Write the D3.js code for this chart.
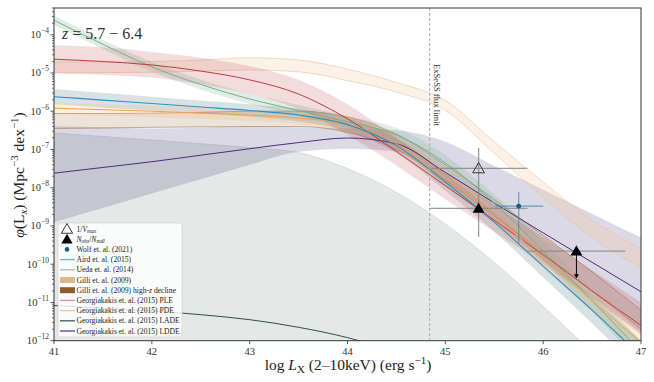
<!DOCTYPE html>
<html><head><meta charset="utf-8">
<script src="https://cdn.jsdelivr.net/npm/d3@7"></script>
<style>
body{margin:0;background:#fff}
svg{display:block}
text{font-family:"Liberation Serif","DejaVu Serif",serif}
</style>
</head><body>
<svg id="c" width="654" height="382"></svg>
<script>
// ---------- data (log10 of phi, Mpc^-3 dex^-1) ----------
const logLx = [41,41.5,42,42.5,43,43.5,44,44.5,45,45.5,46,46.5,47];

const uedaLine = [-3.62,-4.25,-4.84,-5.30,-5.68,-5.98,-6.28,-6.62,-7.35,-8.40,-9.65,-10.95,-12.30];
const uedaHi   = [-3.50,-4.13,-4.71,-5.17,-5.55,-5.84,-6.13,-6.44,-7.15,-8.18,-9.40,-10.67,-12.00];
const uedaLo   = [-3.74,-4.37,-4.97,-5.43,-5.81,-6.12,-6.43,-6.80,-7.55,-8.62,-9.90,-11.23,-12.60];

const airdLine = [-5.62,-5.71,-5.80,-5.89,-5.98,-6.10,-6.35,-6.90,-7.85,-8.90,-10.05,-11.20,-12.40];
const airdHi   = [-5.42,-5.52,-5.62,-5.72,-5.82,-5.94,-6.18,-6.70,-7.62,-8.65,-9.75,-10.85,-12.00];
const airdLo   = [-5.82,-5.90,-5.98,-6.06,-6.14,-6.26,-6.52,-7.10,-8.08,-9.15,-10.35,-11.55,-12.80];

const pdeLine  = [-5.92,-5.96,-6.00,-6.05,-6.10,-6.18,-6.35,-6.85,-7.75,-8.75,-9.85,-10.95,-12.05];
const pdeHi    = [-5.78,-5.82,-5.86,-5.90,-5.95,-6.03,-6.20,-6.68,-7.55,-8.52,-9.58,-10.65,-11.70];
const pdeLo    = [-6.08,-6.11,-6.15,-6.20,-6.25,-6.33,-6.52,-7.02,-7.95,-8.98,-10.12,-11.25,-12.40];

const pleLine  = [-4.64,-4.70,-4.79,-4.95,-5.18,-5.55,-6.20,-7.05,-7.95,-8.85,-9.75,-10.70,-11.60];
const pleHi    = [-4.27,-4.33,-4.45,-4.60,-4.82,-5.18,-5.82,-6.70,-7.60,-8.45,-9.30,-10.15,-11.00];
const pleLo    = [-5.00,-5.05,-5.12,-5.30,-5.55,-5.95,-6.62,-7.42,-8.30,-9.15,-10.00,-10.90,-11.85];

const gilliHi  = [-4.71,-4.71,-4.70,-4.66,-4.60,-4.66,-4.90,-5.25,-5.72,-6.80,-7.85,-8.85,-9.60];
const gilliLo  = [-5.00,-4.99,-4.98,-4.95,-4.92,-4.97,-5.20,-5.50,-5.98,-7.10,-8.25,-9.30,-10.10];

const gilliDecHi = [-6.06,-6.06,-6.05,-6.03,-6.00,-6.00,-6.15,-6.60,-7.40,-8.30,-9.25,-10.20,-11.20];
const gilliDecLo = [-6.45,-6.44,-6.42,-6.41,-6.40,-6.40,-6.55,-7.00,-7.80,-8.75,-9.70,-10.70,-11.70];

const lddeLine = [-7.62,-7.47,-7.32,-7.15,-6.98,-6.82,-6.70,-6.85,-7.60,-8.40,-9.18,-9.95,-10.72];
const lddeHi   = [-6.40,-6.42,-6.45,-6.43,-6.40,-6.42,-6.45,-6.50,-6.80,-7.43,-8.05,-8.68,-9.30];
const lddeLo   = [-8.90,-8.53,-8.15,-7.78,-7.40,-7.06,-6.98,-7.05,-7.95,-8.90,-9.90,-10.85,-11.80];

const ladeLine = [-11.08,-11.15,-11.22,-11.32,-11.45,-11.65,-11.92,-12.30,-12.80,-13.40,-14.00,-14.60,-15.20];
const ladeHi   = [-6.57,-6.66,-6.75,-6.85,-6.95,-7.08,-7.50,-8.12,-8.95,-9.95,-11.10,-12.30,-13.50];
const ladeLo   = [-14,-14,-14,-14,-14,-14,-14,-14,-14,-14,-14,-14,-14];

// data points: [logLx, phi, xlo, xhi, ylo, yhi]
const vmaxPts  = [[45.34, 3.2e-8, 44.85, 45.84, 1.0e-8, 1.1e-7]];
const nobsPts  = [[45.34, 2.9e-9, 44.84, 45.84, 5.2e-10, 1.0e-8]];
const nobsLim  = [[46.34, 2.2e-10, 45.83, 46.84, 4.3e-11]];
const wolfPts  = [[45.75, 3.3e-9, 45.51, 46.00, 3.5e-10, 7.7e-9]];

const fluxLimit = 44.84;
const yTickExp = [-12,-11,-10,-9,-8,-7,-6,-5,-4];
const xTicks = [41,42,43,44,45,46,47];

// ---------- scales ----------
const L=54, R=641, T=8, B=340.7;
const x = d3.scaleLinear().domain([41,47]).range([L,R]);
const y = d3.scaleLog().domain([1e-12,5e-4]).range([B,T]);
const yl = v => y(Math.pow(10,v));

const svg = d3.select("#c");
svg.append("defs").append("clipPath").attr("id","clip")
  .append("rect").attr("x",L).attr("y",T).attr("width",R-L).attr("height",B-T);
const g = svg.append("g").attr("clip-path","url(#clip)");

const curve = d3.curveMonotoneX;
function band(hi, lo, fill, op, edge, ew){
  const a = d3.area().curve(curve).x((d,i)=>x(logLx[i])).y0((d,i)=>yl(lo[i])).y1((d,i)=>yl(hi[i]));
  g.append("path").attr("d", a(hi)).attr("fill", fill).attr("fill-opacity", op).attr("stroke","none");
  if(edge){
    const ln = d3.line().curve(curve).x((d,i)=>x(logLx[i])).y(d=>yl(d));
    [hi,lo].forEach(arr=>g.append("path").attr("d",ln(arr)).attr("fill","none")
      .attr("stroke",edge).attr("stroke-width",ew||0.8).attr("stroke-opacity",0.75));
  }
}
function line(vals, color, w){
  const ln = d3.line().curve(curve).x((d,i)=>x(logLx[i])).y(d=>yl(d));
  g.append("path").attr("d",ln(vals)).attr("fill","none").attr("stroke",color).attr("stroke-width",w||1);
}

// bands
band(ladeHi, ladeLo, "#3e5a55", 0.14, "#c9cfcd");
band(lddeHi, lddeLo, "#4a3f7d", 0.2);
band(gilliHi, gilliLo, "#f2c9a0", 0.25, "#ebc49c", 0.8);
band(gilliDecHi, gilliDecLo, "#a0743f", 0.2, "#a4774a", 0.8);
band(uedaHi, uedaLo, "#8fc0a0", 0.28);
band(airdHi, airdLo, "#3b6f7a", 0.2);
band(pleHi, pleLo, "#c0505a", 0.2);
band(pdeHi, pdeLo, "#f5b070", 0.2);

// lines
line(ladeLine, "#2f4f4f", 1);
line(lddeLine, "#4b2c7f", 1);
line(uedaLine, "#78ad8c", 1);
line(pleLine, "#c23b3b", 1);
line(pdeLine, "#f0a04b", 1);
line(airdLine, "#2a93c6", 1.1);

// flux limit
svg.append("line").attr("x1",x(fluxLimit)).attr("x2",x(fluxLimit)).attr("y1",T).attr("y2",B)
  .attr("stroke","#aaa").attr("stroke-width",1).attr("stroke-dasharray","3,2");
svg.append("text").attr("transform",`translate(${x(fluxLimit)+4},64) rotate(90)`)
  .attr("font-size",8.6).attr("fill","#333").text("ExSeSS flux limit");

// error bars
const eb = svg.append("g").attr("stroke","#888").attr("stroke-opacity",0.85).attr("stroke-width",1.3);
vmaxPts.concat(nobsPts).forEach(p=>{
  eb.append("line").attr("x1",x(p[2])).attr("x2",x(p[3])).attr("y1",y(p[1])).attr("y2",y(p[1]));
  eb.append("line").attr("x1",x(p[0])).attr("x2",x(p[0])).attr("y1",y(p[4])).attr("y2",y(p[5]));
});
nobsLim.forEach(p=>{
  eb.append("line").attr("x1",x(p[2])).attr("x2",x(p[3])).attr("y1",y(p[1])).attr("y2",y(p[1]));
});
const wb = svg.append("g").attr("stroke","#3f87b0").attr("stroke-opacity",0.75).attr("stroke-width",1.2);
wolfPts.forEach(p=>{
  wb.append("line").attr("x1",x(p[2])).attr("x2",x(p[3])).attr("y1",y(p[1])).attr("y2",y(p[1]));
  wb.append("line").attr("x1",x(p[0])).attr("x2",x(p[0])).attr("y1",y(p[4])).attr("y2",y(p[5]));
});
wolfPts.forEach(p=>svg.append("circle").attr("cx",x(p[0])).attr("cy",y(p[1])).attr("r",2.4).attr("fill","#145b85"));

const tri = d3.symbol().type(d3.symbolTriangle).size(60);
vmaxPts.forEach(p=>svg.append("path").attr("d",tri()).attr("transform",`translate(${x(p[0])},${y(p[1])+1})`)
  .attr("fill","none").attr("stroke","#222").attr("stroke-width",0.9));
nobsPts.forEach(p=>svg.append("path").attr("d",tri()).attr("transform",`translate(${x(p[0])},${y(p[1])+1})`).attr("fill","#000"));
nobsLim.forEach(p=>{
  svg.append("line").attr("x1",x(p[0])).attr("x2",x(p[0])).attr("y1",y(p[1])).attr("y2",y(p[4])-3)
    .attr("stroke","#000").attr("stroke-width",1);
  svg.append("path").attr("d",`M${x(p[0])-2.5},${y(p[4])-4}L${x(p[0])+2.5},${y(p[4])-4}L${x(p[0])},${y(p[4])}Z`).attr("fill","#000");
  svg.append("path").attr("d",tri()).attr("transform",`translate(${x(p[0])},${y(p[1])+1})`).attr("fill","#000");
});

// redshift label
svg.append("text").attr("x",62).attr("y",39).attr("font-size",16).attr("fill","#333")
  .html('<tspan font-style="italic">z</tspan> = 5.7 − 6.4');

// axes
svg.append("rect").attr("x",L).attr("y",T).attr("width",R-L).attr("height",B-T)
  .attr("fill","none").attr("stroke","#333").attr("stroke-width",1);
const minors=[];
for(let e=-12;e<=-4;e++) for(let m=2;m<=9;m++){const v=m*Math.pow(10,e); if(v<=5e-4) minors.push(v);}
minors.forEach(v=>svg.append("line").attr("x1",L-2).attr("x2",L).attr("y1",y(v)).attr("y2",y(v)).attr("stroke","#333").attr("stroke-width",0.7));
yTickExp.forEach(e=>{
  const yy=y(Math.pow(10,e));
  svg.append("line").attr("x1",L-3.5).attr("x2",L).attr("y1",yy).attr("y2",yy).attr("stroke","#333").attr("stroke-width",0.8);
  svg.append("text").attr("x",L-5).attr("y",yy+3.5).attr("text-anchor","end").attr("font-size",10.5).attr("fill","#333")
    .html(`10<tspan dy="-5" font-size="7.5">−${-e}</tspan>`);
});
xTicks.forEach(t=>{
  svg.append("line").attr("x1",x(t)).attr("x2",x(t)).attr("y1",B).attr("y2",B+3.5).attr("stroke","#333").attr("stroke-width",0.8);
  svg.append("text").attr("x",x(t)).attr("y",B+14).attr("text-anchor","middle").attr("font-size",10.5).attr("fill","#333").text(t);
});
svg.append("text").attr("x",348).attr("y",370).attr("text-anchor","middle").attr("font-size",15.5).attr("fill","#222")
  .html('log <tspan font-style="italic">L</tspan><tspan font-size="11" dy="3">X</tspan><tspan dy="-3"> (2–10keV) (erg s</tspan><tspan font-size="11" dy="-6">−1</tspan><tspan dy="6">)</tspan>');
svg.append("text").attr("transform","translate(24,175) rotate(-90)").attr("text-anchor","middle").attr("font-size",15.5).attr("fill","#222")
  .html('<tspan font-style="italic">φ</tspan>(L<tspan font-size="11" dy="3" font-style="italic">x</tspan><tspan dy="-3">) (Mpc</tspan><tspan font-size="11" dy="-6">−3</tspan><tspan dy="6"> dex</tspan><tspan font-size="11" dy="-6">−1</tspan><tspan dy="6">)</tspan>');

// legend
const legendLabels = ["1/Vmax","Nobs/Nmdl","Wolf et. al. (2021)","Aird et. al. (2015)","Ueda et. al. (2014)","Gilli et. al. (2009)","Gilli et. al. (2009) high-z decline","Georgiakakis et. al. (2015) PLE","Georgiakakis et. al. (2015) PDE","Georgiakakis et. al. (2015) LADE","Georgiakakis et. al. (2015) LDDE"];
const legendKinds  = ["open","filled","dot","line","line","patch","patch","line","line","line","line"];
const legendColors = ["#222","#000","#145b85","#6fb3dc","#9cc4a8","#dfb887","#8b5e2e","#e08f95","#f5c38f","#3c5a55","#5b3a8c"];
const lg = svg.append("g");
lg.append("rect").attr("x",58).attr("y",223).attr("width",124).attr("height",114).attr("rx",2)
  .attr("fill","#fff").attr("fill-opacity",0.82).attr("stroke","#d4d4d4").attr("stroke-width",0.8);
const ltri = d3.symbol().type(d3.symbolTriangle).size(55);
legendLabels.forEach((lab,i)=>{
  const yy = 229 + i*10.2, k=legendKinds[i], c=legendColors[i];
  if(k==="open") lg.append("path").attr("d",ltri()).attr("transform",`translate(67,${yy+1})`).attr("fill","#fff").attr("stroke",c).attr("stroke-width",0.9);
  if(k==="filled") lg.append("path").attr("d",ltri()).attr("transform",`translate(67,${yy+1})`).attr("fill",c);
  if(k==="dot") lg.append("circle").attr("cx",67).attr("cy",yy).attr("r",2.3).attr("fill",c);
  if(k==="line") lg.append("line").attr("x1",60).attr("x2",75).attr("y1",yy).attr("y2",yy).attr("stroke",c).attr("stroke-width",1.3);
  if(k==="patch") lg.append("rect").attr("x",60).attr("y",yy-3).attr("width",15).attr("height",6).attr("fill",c);
  const t = lg.append("text").attr("x",76.5).attr("y",yy+2.6).attr("font-size",7.6).attr("fill","#222");
  if(i===0) t.html('1/<tspan font-style="italic">V</tspan><tspan font-size="5.5" dy="1.5" font-style="italic">max</tspan>');
  else if(i===1) t.html('<tspan font-style="italic">N</tspan><tspan font-size="5.5" dy="1.5" font-style="italic">obs</tspan><tspan dy="-1.5">/</tspan><tspan font-style="italic">N</tspan><tspan font-size="5.5" dy="1.5" font-style="italic">mdl</tspan>');
  else if(i===6) t.html('Gilli et. al. (2009) high-<tspan font-style="italic">z</tspan> decline');
  else t.text(lab);
});
</script>
</body></html>
